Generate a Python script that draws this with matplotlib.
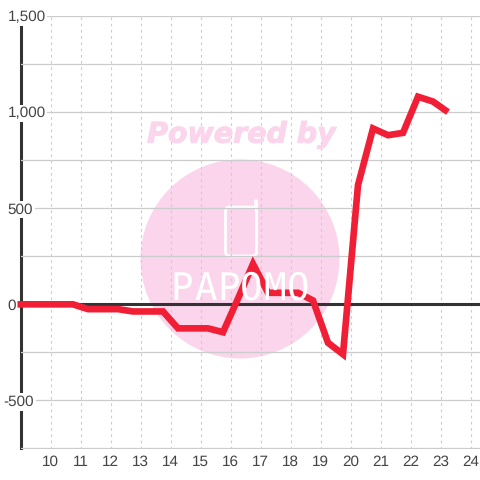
import matplotlib
matplotlib.use("Agg")
import matplotlib.pyplot as plt
import matplotlib.patheffects as pe
from matplotlib.patches import Circle, FancyBboxPatch

plt.rcParams['font.family'] = ['Liberation Sans', 'DejaVu Sans']
plt.rcParams['text.hinting'] = 'no_hinting'

hours = [8.9, 10.75, 11.25, 12.25, 12.75, 13.75, 14.25, 15.25, 15.75, 16.25, 16.75,
         17.25, 18.25, 18.75, 19.25, 19.75, 20.25, 20.75, 21.25, 21.75, 22.25, 22.75, 23.25]
values = [0, 0, -25, -25, -37, -37, -125, -125, -145, 30, 210,
          60, 60, 20, -200, -260, 620, 915, 880, 892, 1080, 1055, 1000]
x_ticks = list(range(10, 25))
y_ticks = [-500, 0, 500, 1000, 1500]
y_minor = [-750, -250, 250, 750, 1250]
y_labels = ['-500', '0', '500', '1,000', '1,500']
logo_letters = ['P', 'A', 'P', 'O', 'M', 'O']

W = 480.0
fig = plt.figure(figsize=(4.8, 4.8), dpi=100, facecolor='white')
ax = fig.add_axes([20.5 / W, 1 - 448.5 / W, (W - 20.5) / W, (448.5 - 16) / W])
ax.set_xlim(9.0, 9.0 + (W - 20.5) / 30.0)
ax.set_ylim(-750, 1500)
ax.set_facecolor('none')
ax.set_axisbelow(True)

# watermark
PINK = '#FBD5EC'
ax.add_patch(Circle((240 / W, 1 - 259 / W), 99.5 / W, transform=fig.transFigure,
                    facecolor=PINK, edgecolor='none', zorder=0.1, clip_on=False))
fig.text(241.5 / W, 1 - 135 / W, 'Powered by', color=PINK, ha='center', va='center',
         fontsize=20.5, fontweight='bold', fontstyle='italic', family='DejaVu Sans', zorder=0.1,
         path_effects=[pe.withStroke(linewidth=0.7, foreground=PINK)])
ax.add_patch(FancyBboxPatch((225.5 / W, 1 - 256 / W), 31 / W, 49 / W, transform=fig.transFigure,
                            boxstyle='round,pad=0,rounding_size=0.009', facecolor='none',
                            edgecolor='white', linewidth=2.0, zorder=0.2, clip_on=False))
ax.plot([255.5 / W, 255.5 / W], [1 - 208 / W, 1 - 201 / W], transform=fig.transFigure,
        color='white', lw=2.6, solid_capstyle='round', zorder=0.2, clip_on=False)
for i, ch in enumerate(logo_letters):
    fig.text((182 + i * 23.2) / W, 1 - 289 / W, ch, color='white', ha='center', va='center',
             fontsize=27, family='DejaVu Sans Mono', zorder=0.2)

# grid
ax.set_xticks(x_ticks)
ax.set_yticks(y_ticks)
ax.set_yticks(y_minor, minor=True)
ax.set_yticklabels(y_labels)
ax.grid(axis='y', which='both', color='#cccccc', lw=0.9, ls='-', zorder=0.5)
ax.grid(axis='x', which='major', color='#cccccc', lw=0.8, ls=(0, (2.4, 3.2)), zorder=0.5)
ax.tick_params(axis='both', which='both', length=0, labelcolor='#444444', labelsize=11)
ax.tick_params(axis='x', pad=4.6)
ax.tick_params(axis='y', pad=9.4)

for s in ['top', 'right', 'bottom']:
    ax.spines[s].set_visible(False)
ax.spines['left'].set_linewidth(2.2)
ax.spines['left'].set_color('#333333')

ax.axhline(0, color='#333333', lw=2.2, zorder=3)
ax.plot(hours, values, color='#F01F36', lw=4.8, solid_joinstyle='miter',
        solid_capstyle='butt', zorder=4, clip_on=False)

for t, lab in zip(ax.get_yticklabels(), y_labels):
    t.set_horizontalalignment('left')
    t.set_bbox(dict(facecolor='white', edgecolor='none', pad=1.2))
    t.set_zorder(3.5)
    if lab == '-500':
        t.set_x(-4 / (W - 20.5))

ax.yaxis.set_zorder(2.6)
fig.savefig('out.png', dpi=100)
